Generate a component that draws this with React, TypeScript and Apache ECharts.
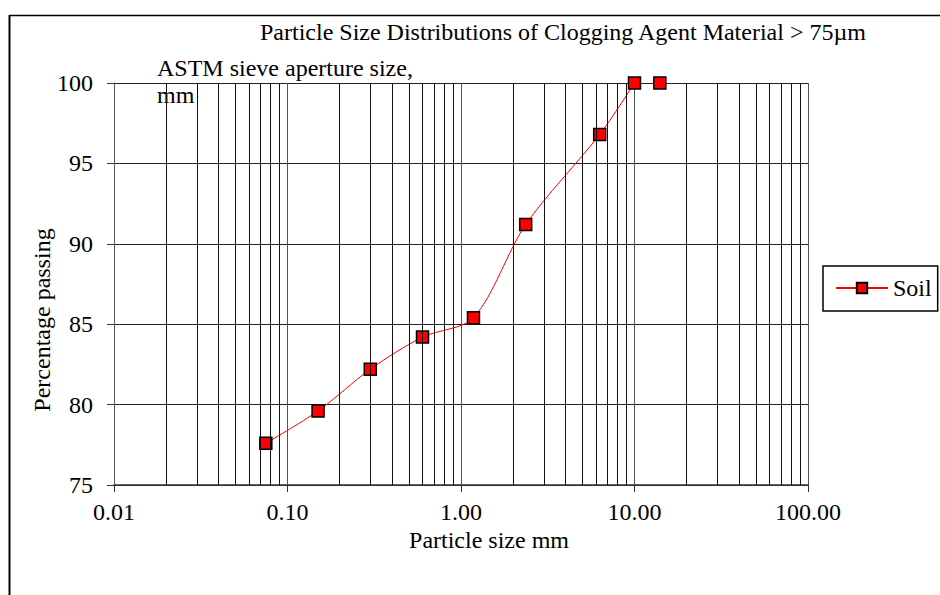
import React, { useEffect, useRef } from "react";
import * as echarts from "echarts";

const TITLE = "Particle Size Distributions of Clogging Agent Material > 75µm";
const SIEVE_SIZES = [0.075, 0.15, 0.3, 0.6, 1.18, 2.36, 6.3, 10];
const PASSING = [77.6, 79.6, 82.2, 84.2, 85.4, 91.2, 96.8, 100];
const EXTRA_SIZES = [14];
const EXTRA_PASSING = [100];
const DECADES = [0.01, 0.1, 1, 10];
const MINOR_MULTIPLES = [2, 3, 4, 5, 6, 7, 8, 9];
const Y_TICKS = [75, 80, 85, 90, 95, 100];

const FONT = "Liberation Serif";
const FS = 24;

export default function App() {
  const ref = useRef<HTMLDivElement>(null);
  useEffect(() => {
    if (!ref.current) return;
    const chart = echarts.init(ref.current, null, { renderer: "svg" });
    const minor: number[] = [];
    DECADES.forEach((d) => MINOR_MULTIPLES.forEach((m) => minor.push(+(d * m).toPrecision(3))));
    chart.setOption({
      animation: false,
      backgroundColor: "#fff",
      textStyle: { fontFamily: FONT, color: "#000" },
      title: {
        text: TITLE,
        left: 260,
        top: 20,
        padding: 0,
        textStyle: { fontFamily: FONT, fontSize: FS, fontWeight: "normal", color: "#000" },
      },
      legend: {
        left: 823,
        top: 266,
        orient: "vertical",
        data: ["Soil"],
        borderColor: "#000",
        borderWidth: 1.5,
        padding: [10, 6, 11, 12],
        itemWidth: 52,
        itemHeight: 13,
        itemGap: 6,
        textStyle: { fontFamily: FONT, fontSize: FS, color: "#000" },
      },
      grid: { left: 114, right: 132, top: 83, bottom: 110 },
      xAxis: {
        type: "log",
        logBase: 10,
        min: 0.01,
        max: 100,
        name: "Particle size mm",
        nameLocation: "middle",
        nameGap: 43,
        nameMoveOverlap: false,
        nameTextStyle: { fontFamily: FONT, fontSize: FS, color: "#000", padding: [0, 0, 0, 56] },
        axisLine: { show: true, onZero: false, lineStyle: { color: "#333", width: 1.5 } },
        axisTick: { show: true, length: 7, lineStyle: { color: "#333" } },
        axisLabel: {
          fontFamily: FONT,
          fontSize: FS,
          color: "#000",
          margin: 15,
          formatter: (v: number) => v.toFixed(2),
        },
        splitLine: { show: true, lineStyle: { color: "#555", width: 1 } },
      },
      yAxis: {
        type: "value",
        min: Y_TICKS[0],
        max: Y_TICKS[Y_TICKS.length - 1],
        interval: 5,
        name: "Percentage passing",
        nameLocation: "middle",
        nameGap: 60,
        nameMoveOverlap: false,
        nameTextStyle: { fontFamily: FONT, fontSize: FS, color: "#000", padding: [0, 72, 0, 0] },
        axisLine: { show: true, lineStyle: { color: "#555", width: 1 } },
        axisTick: { show: true, length: 7, lineStyle: { color: "#333" } },
        axisLabel: { fontFamily: FONT, fontSize: FS, color: "#000", margin: 21 },
        splitLine: { show: true, lineStyle: { color: "#222", width: 1 } },
      },
      graphic: [
        {
          type: "text",
          left: 157,
          top: 54,
          style: {
            text: "ASTM sieve aperture size,\nmm",
            fontFamily: FONT,
            fontSize: FS,
            lineHeight: 27,
            fill: "#000",
          },
        },
        {
          type: "line",
          shape: { x1: 9.5, y1: 15, x2: 9.5, y2: 600 },
          style: { stroke: "#000", lineWidth: 2 },
        },
        {
          type: "line",
          shape: { x1: 9, y1: 15.5, x2: 945, y2: 15.5 },
          style: { stroke: "#000", lineWidth: 1.5 },
        },
      ],
      series: [
        {
          name: "grid",
          type: "line",
          data: [],
          silent: true,
          z: 1,
          markLine: {
            silent: true,
            symbol: "none",
            label: { show: false },
            lineStyle: { color: "#111", type: "solid", width: 1 },
            data: minor.map((v) => ({ xAxis: v })),
          },
        },
        {
          name: "Soil",
          type: "line",
          z: 3,
          data: SIEVE_SIZES.map((s, i) => [s, PASSING[i]]),
          smooth: 0.3,
          symbol: "rect",
          symbolSize: 12,
          lineStyle: { color: "#ff0000", width: 1 },
          itemStyle: { color: "#ff0000", borderColor: "#000", borderWidth: 1.5 },
        },
        {
          name: "Soil",
          type: "line",
          z: 3,
          data: EXTRA_SIZES.map((s, i) => [s, EXTRA_PASSING[i]]),
          symbol: "rect",
          symbolSize: 12,
          lineStyle: { width: 0 },
          itemStyle: { color: "#ff0000", borderColor: "#000", borderWidth: 1.5 },
        },
      ],
    });
    return () => chart.dispose();
  }, []);
  return (
    <div
      ref={ref}
      style={{ position: "fixed", left: 0, top: 0, width: 940, height: 595 }}
    />
  );
}
